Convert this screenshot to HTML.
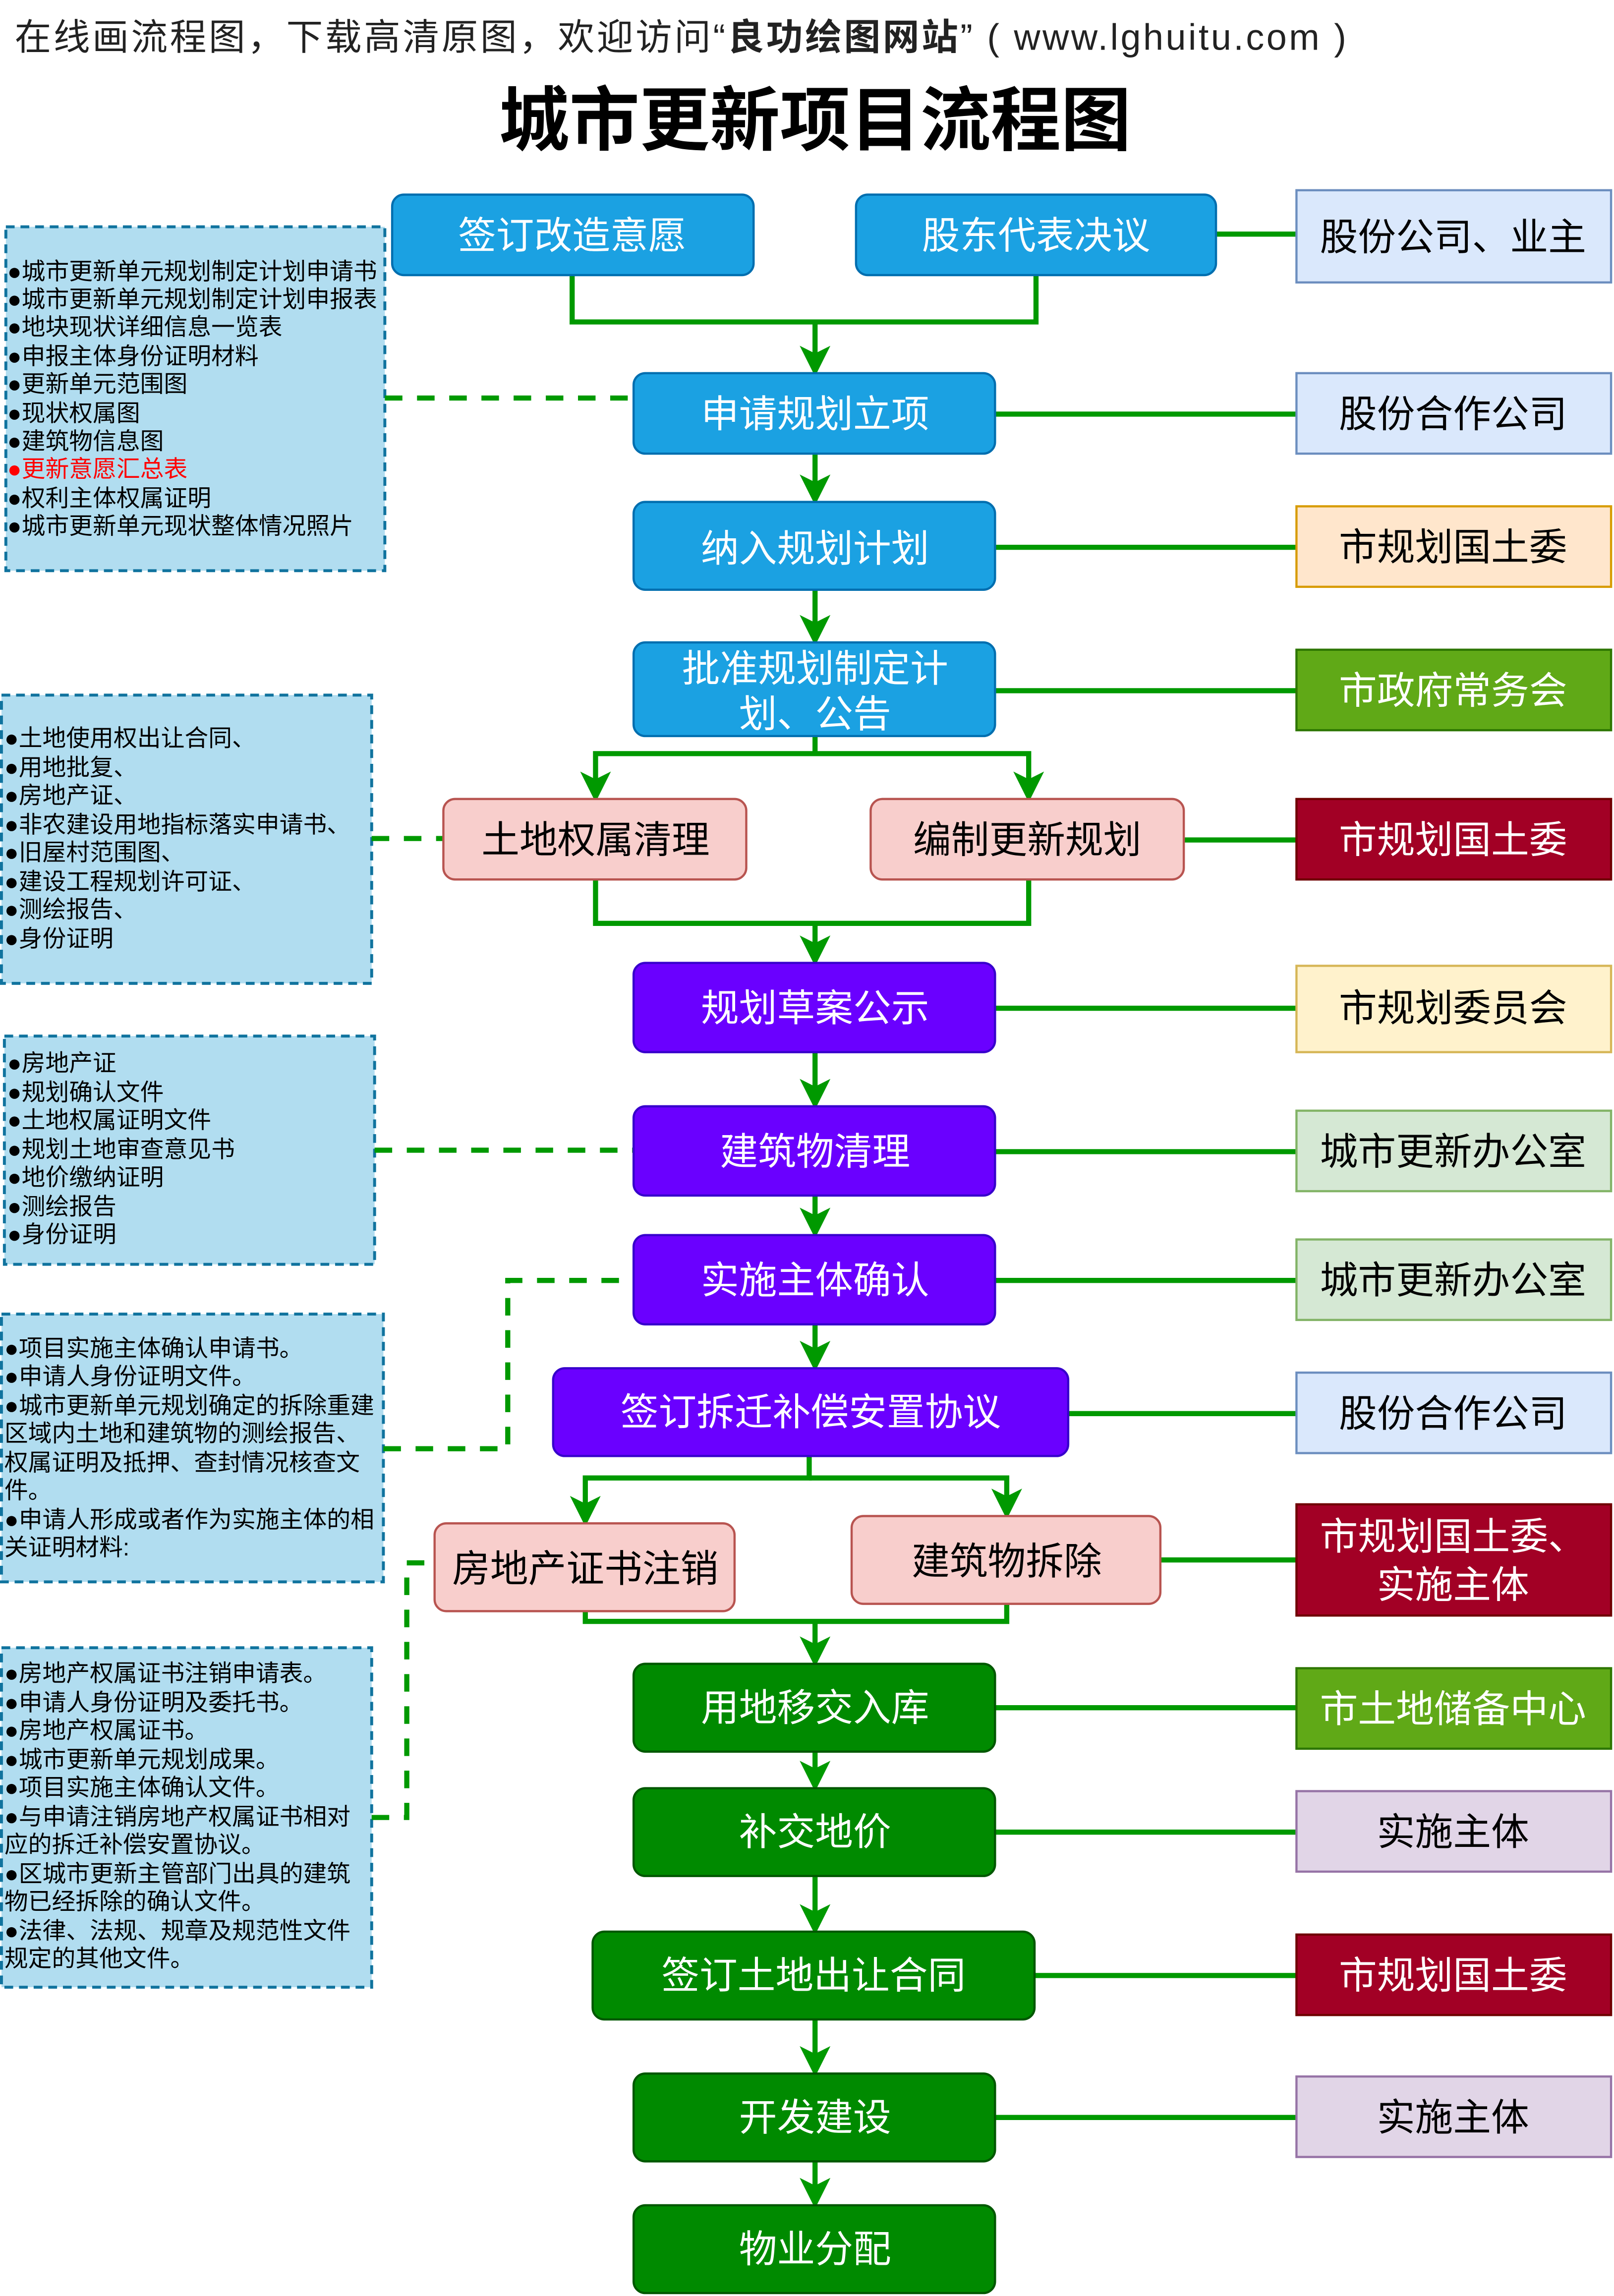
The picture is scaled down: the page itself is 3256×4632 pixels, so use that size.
<!DOCTYPE html>
<html><head><meta charset="utf-8">
<style>
html,body{margin:0;padding:0;background:#fff;}
svg{display:block;}
text{font-family:"Liberation Sans","Noto Sans CJK SC",sans-serif;}
</style></head>
<body>
<svg xmlns="http://www.w3.org/2000/svg" width="3256" height="4632" viewBox="0 0 1103 1569" preserveAspectRatio="none">
<defs>
<marker id="ar" markerWidth="6" markerHeight="6" refX="4.5" refY="3" orient="auto" markerUnits="strokeWidth">
<path d="M0,0 L6,3 L0,6 L1.5,3 Z" fill="#009900"/>
</marker>
</defs>
<rect width="1103" height="1569" fill="#fff"/>
<text x="10" y="34" font-size="25" fill="#222" textLength="910" lengthAdjust="spacing">在线画流程图，下载高清原图，欢迎访问“<tspan font-weight="bold">良功绘图网站</tspan>” ( www.lghuitu.com )</text>
<text x="557" y="99" font-size="48" font-weight="bold" text-anchor="middle" fill="#000">城市更新项目流程图</text>

<g fill="#b1ddf0" stroke="#10739e" stroke-width="2" stroke-dasharray="6,4">
<rect x="4" y="155" width="259" height="235"/>
<rect x="1" y="475" width="253" height="197"/>
<rect x="3" y="708" width="253" height="156"/>
<rect x="1" y="898" width="261" height="183"/>
<rect x="1" y="1126" width="253" height="232"/>
</g>
<g font-size="16.2" fill="#000">
<text x="5" y="191">●城市更新单元规划制定计划申请书</text>
<text x="5" y="210">●城市更新单元规划制定计划申报表</text>
<text x="5" y="229">●地块现状详细信息一览表</text>
<text x="5" y="249">●申报主体身份证明材料</text>
<text x="5" y="268">●更新单元范围图</text>
<text x="5" y="288">●现状权属图</text>
<text x="5" y="307">●建筑物信息图</text>
<text x="5" y="326" fill="#ff0000">●更新意愿汇总表</text>
<text x="5" y="346">●权利主体权属证明</text>
<text x="5" y="365">●城市更新单元现状整体情况照片</text>

<text x="3" y="510">●土地使用权出让合同、</text>
<text x="3" y="530">●用地批复、</text>
<text x="3" y="549">●房地产证、</text>
<text x="3" y="569">●非农建设用地指标落实申请书、</text>
<text x="3" y="588">●旧屋村范围图、</text>
<text x="3" y="608">●建设工程规划许可证、</text>
<text x="3" y="627">●测绘报告、</text>
<text x="3" y="647">●身份证明</text>

<text x="5" y="732">●房地产证</text>
<text x="5" y="752">●规划确认文件</text>
<text x="5" y="771">●土地权属证明文件</text>
<text x="5" y="791">●规划土地审查意见书</text>
<text x="5" y="810">●地价缴纳证明</text>
<text x="5" y="830">●测绘报告</text>
<text x="5" y="849">●身份证明</text>

<text x="3" y="927">●项目实施主体确认申请书。</text>
<text x="3" y="946">●申请人身份证明文件。</text>
<text x="3" y="966">●城市更新单元规划确定的拆除重建</text>
<text x="3" y="985">区域内土地和建筑物的测绘报告、</text>
<text x="3" y="1005">权属证明及抵押、查封情况核查文</text>
<text x="3" y="1024">件。</text>
<text x="3" y="1044">●申请人形成或者作为实施主体的相</text>
<text x="3" y="1063">关证明材料:</text>

<text x="3" y="1149">●房地产权属证书注销申请表。</text>
<text x="3" y="1169">●申请人身份证明及委托书。</text>
<text x="3" y="1188">●房地产权属证书。</text>
<text x="3" y="1208">●城市更新单元规划成果。</text>
<text x="3" y="1227">●项目实施主体确认文件。</text>
<text x="3" y="1247">●与申请注销房地产权属证书相对</text>
<text x="3" y="1266">应的拆迁补偿安置协议。</text>
<text x="3" y="1286">●区城市更新主管部门出具的建筑</text>
<text x="3" y="1305">物已经拆除的确认文件。</text>
<text x="3" y="1325">●法律、法规、规章及规范性文件</text>
<text x="3" y="1344">规定的其他文件。</text>
</g>

<g fill="none" stroke="#009900" stroke-width="3.5" stroke-dasharray="12,10">
<path d="M263,272 H433"/>
<path d="M254,573 H303"/>
<path d="M256,786 H433"/>
<path d="M262,990 H347 V875 H433"/>
<path d="M254,1242 H278 V1068 H297"/>
</g>

<g fill="none" stroke="#009900" stroke-width="3.5">
<path d="M391,188 V220 H708 V188"/>
<path d="M557,220 V252" marker-end="url(#ar)"/>
<path d="M557,310 V340" marker-end="url(#ar)"/>
<path d="M557,403 V436" marker-end="url(#ar)"/>
<path d="M557,503 V515 H407 V543" marker-end="url(#ar)"/>
<path d="M557,515 H703 V543" marker-end="url(#ar)"/>
<path d="M407,601 V631 H703 V601"/>
<path d="M557,631 V655" marker-end="url(#ar)"/>
<path d="M557,719 V753" marker-end="url(#ar)"/>
<path d="M557,817 V841" marker-end="url(#ar)"/>
<path d="M557,905 V932" marker-end="url(#ar)"/>
<path d="M553,995 V1010 H400 V1038" marker-end="url(#ar)"/>
<path d="M553,1010 H688 V1033" marker-end="url(#ar)"/>
<path d="M400,1101 V1108 H688 V1096"/>
<path d="M557,1108 V1134" marker-end="url(#ar)"/>
<path d="M557,1197 V1219" marker-end="url(#ar)"/>
<path d="M557,1282 V1317" marker-end="url(#ar)"/>
<path d="M557,1380 V1414" marker-end="url(#ar)"/>
<path d="M557,1477 V1504" marker-end="url(#ar)"/>
<path d="M831,160 H886"/>
<path d="M680,283 H886"/>
<path d="M680,374 H886"/>
<path d="M680,472 H886"/>
<path d="M809,574 H886"/>
<path d="M680,689 H886"/>
<path d="M680,787 H886"/>
<path d="M680,875 H886"/>
<path d="M730,966 H886"/>
<path d="M793,1066 H886"/>
<path d="M680,1167 H886"/>
<path d="M680,1252 H886"/>
<path d="M707,1350 H886"/>
<path d="M680,1447 H886"/>
</g>

<g stroke-width="1.5" font-size="26" text-anchor="middle">
<g fill="#1ba1e2" stroke="#006eaf">
<rect x="268" y="133" width="247" height="55" rx="8"/>
<rect x="585" y="133" width="246" height="55" rx="8"/>
<rect x="433" y="255" width="247" height="55" rx="8"/>
<rect x="433" y="343" width="247" height="60" rx="8"/>
<rect x="433" y="439" width="247" height="64" rx="8"/>
</g>
<g fill="#f8cecc" stroke="#b85450">
<rect x="303" y="546" width="207" height="55" rx="8"/>
<rect x="595" y="546" width="214" height="55" rx="8"/>
<rect x="297" y="1041" width="205" height="60" rx="8"/>
<rect x="582" y="1036" width="211" height="60" rx="8"/>
</g>
<g fill="#6a00ff" stroke="#3700cc">
<rect x="433" y="658" width="247" height="61" rx="8"/>
<rect x="433" y="756" width="247" height="61" rx="8"/>
<rect x="433" y="844" width="247" height="61" rx="8"/>
<rect x="378" y="935" width="352" height="60" rx="8"/>
</g>
<g fill="#008a00" stroke="#005700">
<rect x="433" y="1137" width="247" height="60" rx="8"/>
<rect x="433" y="1222" width="247" height="60" rx="8"/>
<rect x="405" y="1320" width="302" height="60" rx="8"/>
<rect x="433" y="1417" width="247" height="60" rx="8"/>
<rect x="433" y="1507" width="247" height="60" rx="8"/>
</g>
<g stroke="none" fill="#fff">
<text x="391" y="170">签订改造意愿</text>
<text x="708" y="170">股东代表决议</text>
<text x="557" y="292">申请规划立项</text>
<text x="557" y="384">纳入规划计划</text>
<text x="557" y="466">批准规划制定计</text>
<text x="557" y="497">划、公告</text>
<text x="557" y="698">规划草案公示</text>
<text x="557" y="796">建筑物清理</text>
<text x="557" y="884">实施主体确认</text>
<text x="554" y="974">签订拆迁补偿安置协议</text>
<text x="557" y="1176">用地移交入库</text>
<text x="557" y="1261">补交地价</text>
<text x="556" y="1359">签订土地出让合同</text>
<text x="557" y="1456">开发建设</text>
<text x="557" y="1546">物业分配</text>
</g>
<g stroke="none" fill="#000">
<text x="407" y="583">土地权属清理</text>
<text x="702" y="583">编制更新规划</text>
<text x="400" y="1081">房地产证书注销</text>
<text x="688" y="1076">建筑物拆除</text>
</g>
</g>

<g stroke-width="1.5" font-size="26" text-anchor="middle">
<g fill="#dae8fc" stroke="#6c8ebf">
<rect x="886" y="130" width="215" height="63"/>
<rect x="886" y="255" width="215" height="55"/>
<rect x="886" y="938" width="215" height="55"/>
</g>
<rect x="886" y="346" width="215" height="55" fill="#ffe6cc" stroke="#d79b00"/>
<g fill="#60a917" stroke="#2d7600">
<rect x="886" y="444" width="215" height="55"/>
<rect x="886" y="1140" width="215" height="55"/>
</g>
<g fill="#a20025" stroke="#6f0000">
<rect x="886" y="546" width="215" height="55"/>
<rect x="886" y="1028" width="215" height="76"/>
<rect x="886" y="1322" width="215" height="55"/>
</g>
<rect x="886" y="660" width="215" height="59" fill="#fff2cc" stroke="#d6b656"/>
<g fill="#d5e8d4" stroke="#82b366">
<rect x="886" y="759" width="215" height="55"/>
<rect x="886" y="847" width="215" height="55"/>
</g>
<g fill="#e1d5e7" stroke="#9673a6">
<rect x="886" y="1224" width="215" height="55"/>
<rect x="886" y="1419" width="215" height="55"/>
</g>
<g stroke="none" fill="#000">
<text x="993" y="171">股份公司、业主</text>
<text x="993" y="292">股份合作公司</text>
<text x="993" y="383">市规划国土委</text>
<text x="993" y="698">市规划委员会</text>
<text x="993" y="796">城市更新办公室</text>
<text x="993" y="884">城市更新办公室</text>
<text x="993" y="975">股份合作公司</text>
<text x="993" y="1261">实施主体</text>
<text x="993" y="1456">实施主体</text>
</g>
<g stroke="none" fill="#fff">
<text x="993" y="481">市政府常务会</text>
<text x="993" y="583">市规划国土委</text>
<text x="993" y="1059">市规划国土委、</text>
<text x="993" y="1092">实施主体</text>
<text x="993" y="1177">市土地储备中心</text>
<text x="993" y="1359">市规划国土委</text>
</g>
</g>
</svg>
</body></html>
